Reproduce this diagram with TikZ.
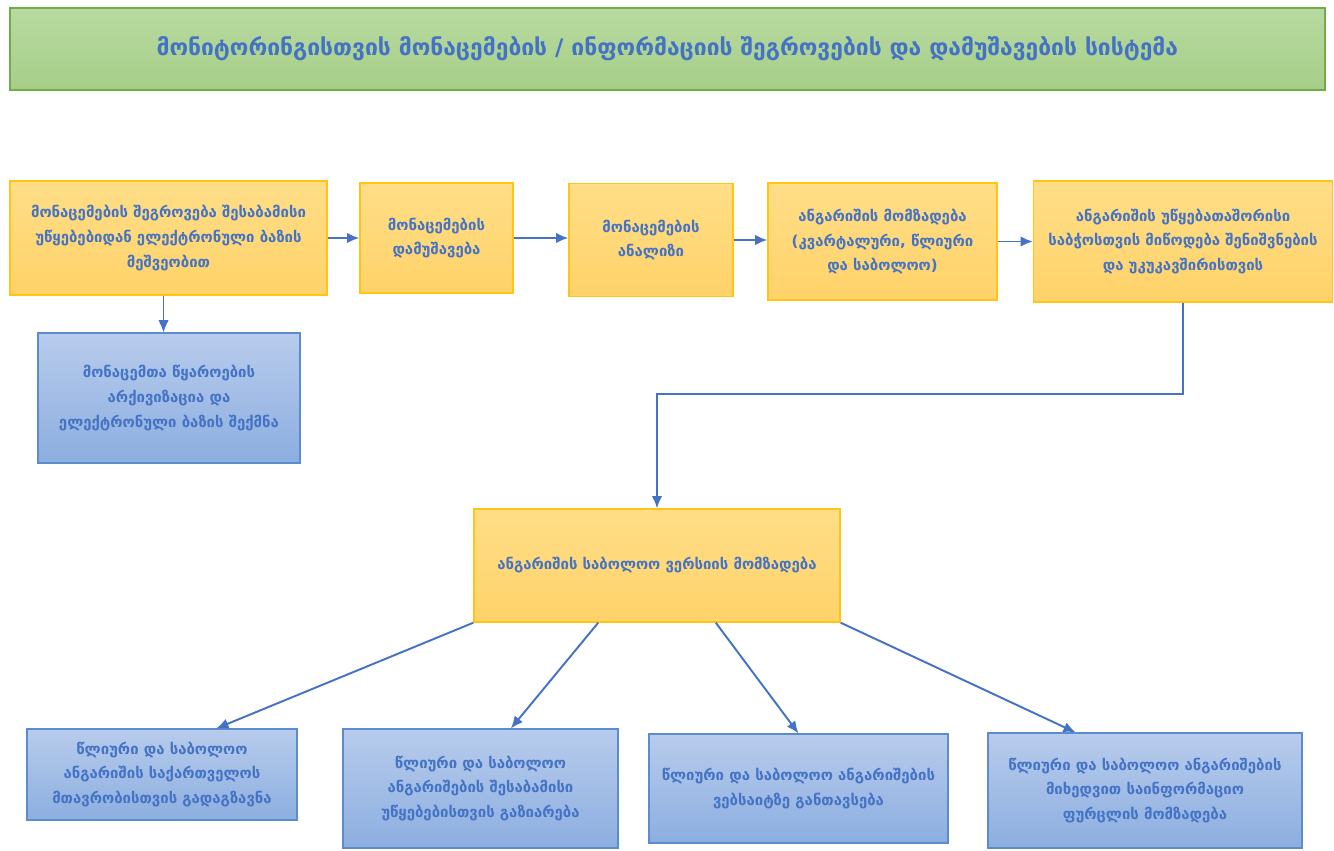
\documentclass[tikz,border=0pt]{standalone}
\usepackage{fontspec}
\setmainfont{DejaVu Sans}
\usetikzlibrary{calc,arrows.meta}
\definecolor{txtblue}{RGB}{68,114,196}
\definecolor{linkblue}{RGB}{68,114,196}
\definecolor{ortop}{RGB}{255,222,135}
\definecolor{orbot}{RGB}{255,210,105}
\definecolor{orline}{RGB}{255,196,20}
\definecolor{bltop}{RGB}{184,204,236}
\definecolor{blbot}{RGB}{140,174,224}
\definecolor{blline}{RGB}{91,140,205}
\definecolor{grtop}{RGB}{184,218,160}
\definecolor{grbot}{RGB}{166,206,136}
\definecolor{grline}{RGB}{112,173,71}

\tikzset{
  orbox/.style={draw=orline,line width=0.8pt,top color=ortop,bottom color=orbot,
    inner sep=0pt,align=center,text=txtblue,font=\bfseries\fontsize{8.5}{14}\selectfont},
  blbox/.style={draw=blline,line width=0.6pt,top color=bltop,bottom color=blbot,
    inner sep=0pt,align=center,text=txtblue,font=\bfseries\fontsize{8.5}{14}\selectfont},
  link/.style={-{Latex[length=7pt,width=6pt]},draw=linkblue,line width=1.1pt}
}

\begin{document}
\begin{tikzpicture}[x=0.02cm,y=-0.02cm]
        \useasboundingbox (0,0) rectangle (1334,850);
        % title
        \node[draw=grline,line width=0.8pt,top color=grtop,bottom color=grbot,minimum width=1315*0.02cm,minimum height=82*0.02cm,
          text=txtblue,font=\bfseries\fontsize{13}{16}\selectfont] (title) at (667.5,49)
          {მონიტორინგისთვის მონაცემების / ინფორმაციის შეგროვების და დამუშავების სისტემა};
        % upper row
        \node[orbox,minimum width=317*0.02cm,minimum height=114*0.02cm] (b1) at (168.5,238)
          {მონაცემების შეგროვება შესაბამისი\\უწყებებიდან ელექტრონული ბაზის\\მეშვეობით};
        \node[orbox,minimum width=153*0.02cm,minimum height=110*0.02cm] (b2) at (436.5,238)
          {მონაცემების\\დამუშავება};
        \node[orbox,minimum width=164*0.02cm,minimum height=113*0.02cm] (b3) at (651,240)
          {მონაცემების\\ანალიზი};
        \node[orbox,minimum width=229*0.02cm,minimum height=117*0.02cm] (b4) at (882.5,241.5)
          {ანგარიშის მომზადება\\(კვარტალური, წლიური\\და საბოლოო)};
        \node[orbox,minimum width=299*0.02cm,minimum height=121*0.02cm] (b5) at (1183,241.5)
          {ანგარიშის უწყებათაშორისი\\საბჭოსთვის მიწოდება შენიშვნების\\და უკუკავშირისთვის};
        \node[blbox,minimum width=262*0.02cm,minimum height=130*0.02cm] (arch) at (169,398)
          {მონაცემთა წყაროების\\არქივიზაცია და\\ელექტრონული ბაზის შექმნა};
        % final version
        \node[orbox,minimum width=366*0.02cm,minimum height=113*0.02cm] (fin) at (657,565.5)
          {ანგარიშის საბოლოო ვერსიის მომზადება};
        % lower row
        \node[blbox,minimum width=270*0.02cm,minimum height=91*0.02cm] (s1) at (162,774.5)
          {წლიური და საბოლოო\\ანგარიშის საქართველოს\\მთავრობისთვის გადაგზავნა};
        \node[blbox,minimum width=275*0.02cm,minimum height=119*0.02cm] (s2) at (480.5,788.5)
          {წლიური და საბოლოო\\ანგარიშების შესაბამისი\\უწყებებისთვის გაზიარება};
        \node[blbox,minimum width=299*0.02cm,minimum height=109*0.02cm] (s3) at (798.5,788.5)
          {წლიური და საბოლოო ანგარიშების\\ვებსაიტზე განთავსება};
        \node[blbox,minimum width=314*0.02cm,minimum height=115*0.02cm] (s4) at (1145,790.5)
          {წლიური და საბოლოო ანგარიშების\\მიხედვით საინფორმაციო\\ფურცლის მომზადება};
        % connectors
        \draw[link] (b1.east) -- (b1.east -| b2.west);
        \draw[link] (b2.east) -- (b2.east -| b3.west);
        \draw[link] (b3.east) -- (b3.east -| b4.west);
        \draw[link] (b4.east) -- (b4.east -| b5.west);
        \draw[link] ([xshift=-5*0.02cm]b1.south) -- ([xshift=-5*0.02cm]b1.south |- arch.north);
        \draw[link] (b5.south) -- ++(0,91) -| (fin.north);
        \draw[link] (fin.south west) -- ($(s1.north west)!0.70!(s1.north east)$);
        \draw[link] ($(fin.south west)!0.34!(fin.south east)$) -- ($(s2.north west)!0.61!(s2.north east)$);
        \draw[link] ($(fin.south west)!0.66!(fin.south east)$) -- (s3.north);
        \draw[link] (fin.south east) -- ($(s4.north west)!0.28!(s4.north east)$);
    \end{tikzpicture}
\end{document}
